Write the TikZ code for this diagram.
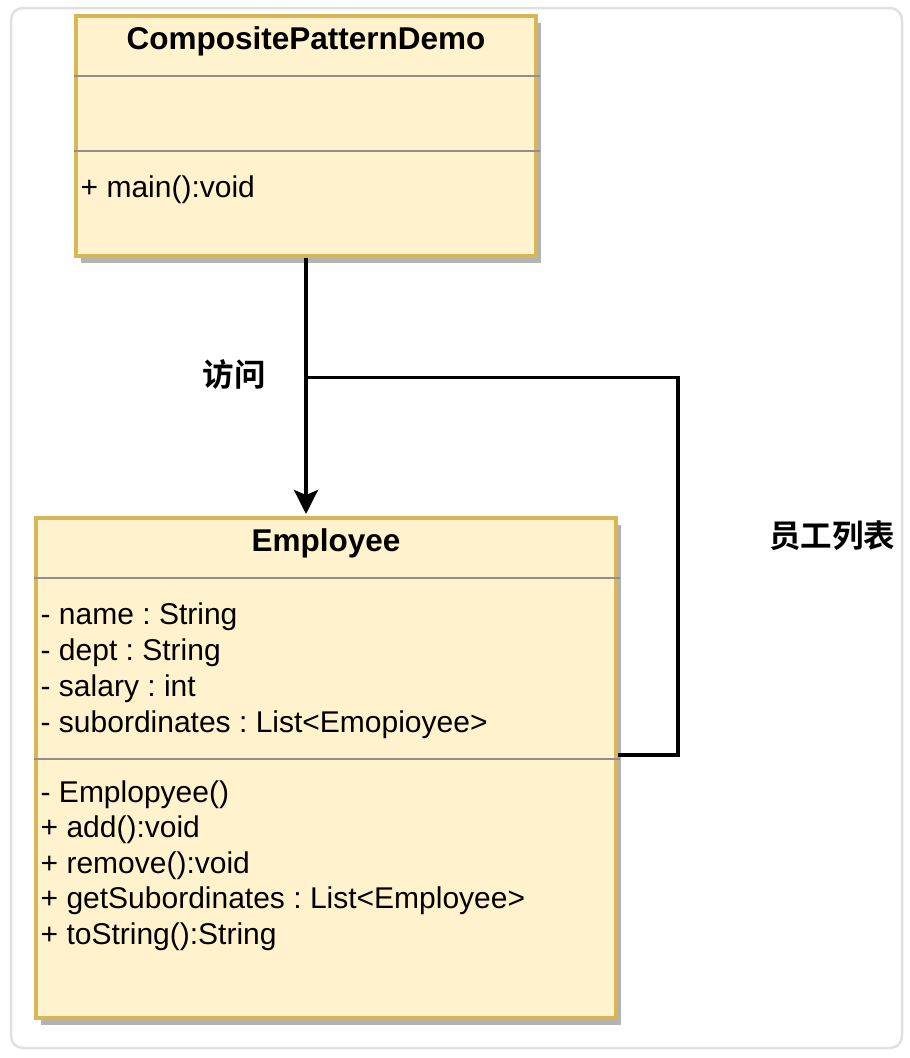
\documentclass[tikz,border=0pt]{standalone}
\usepackage{fontspec}
\setmainfont{Liberation Sans}
\newfontfamily\cjk{Noto Sans CJK SC Bold}
\usepackage{xcolor}
\usepackage{tikz}
\usetikzlibrary{shapes,arrows.meta,positioning,shadows,calc}
\frenchspacing
\definecolor{umlfill}{HTML}{FFF2CC}
\definecolor{umlgold}{HTML}{D6B656}
\definecolor{umlshadow}{HTML}{B3B3B3}
\definecolor{umlrule}{HTML}{8F8F8F}
\tikzset{
    umlbox/.style={rectangle, draw=umlgold, fill=umlfill, line width=4pt, anchor=north west, drop shadow={shadow xshift=5pt, shadow yshift=-7pt, fill=umlshadow, opacity=1}},
    umltitle/.style={font=\fontsize{31.5}{36}\selectfont\bfseries, inner sep=0pt, anchor=base},
    member/.style={font=\fontsize{30}{36}\selectfont, inner sep=0pt, anchor=base west},
    divider/.style={draw=umlrule, line width=2pt},
    link/.style={draw, line width=3.5pt},
    cnlabel/.style={font=\fontsize{31.5}{36}\selectfont\cjk, inner sep=0pt}
}
\begin{document}
\begin{tikzpicture}[x=1pt, y=-1pt]
    % Page and frame
    \fill[white] (0,0) rectangle (910,1058);
    \useasboundingbox (0,0) rectangle (910,1058);
    \draw[black!12, line width=2.5pt, rounded corners=12pt] (11,8) rectangle (902,1048);

    % Client class
    \node [umlbox, minimum width=460pt, minimum height=240pt] (demo) at (74,14) {};
    \node [umltitle] (demotitle) at ([shift={(0,35)}]demo.north) {CompositePatternDemo};
    \draw [divider] ([shift={(0,62)}]demo.north west) -- ([shift={(2,62)}]demo.north east);
    \draw [divider] ([shift={(0,136.5)}]demo.north west) -- ([shift={(2,136.5)}]demo.north east);
    \node [member] (main) at ([shift={(6.5,183)}]demo.north west) {+ main():void};

    % Component class
    \node [umlbox, minimum width=580pt, minimum height=500pt] (emp) at (34,516) {};
    \node [umltitle] (emptitle) at ([shift={(0,35)}]emp.north) {Employee};
    \draw [divider] ([shift={(0,62)}]emp.north west) -- ([shift={(2,62)}]emp.north east);
    \draw [divider] ([shift={(0,243)}]emp.north west) -- ([shift={(2,243)}]emp.north east);
    \foreach \txt [count=\i from 0] in {- name : String, - dept : String, - salary : int, - subordinates : List<Emopioyee>}
        \node [member] (attr\i) at ([shift={(6.5,108+36*\i)}]emp.north west) {\txt};
    \foreach \txt [count=\i from 0] in {- Emplopyee(), + add():void, + remove():void, + getSubordinates : List<Employee>, + toString():String}
        \node [member] (op\i) at ([shift={(6.5,286+35.5*\i)}]emp.north west) {\txt};

    % Connections
    \coordinate (join) at ([yshift=-119.5pt]demo.south);
    \path [link, -{Stealth[length=24pt, width=24pt, inset=5pt]}, shorten >=2pt] (demo.south) -- (demo.south |- emp.north);
    \path [link] ([yshift=13pt]emp.east) -- ++(60,0) |- (join);

    % Labels
    \node [cnlabel] (visit) at ([shift={(-72,117)}]demo.south) {访问};
    \node [cnlabel] (staff) at ([shift={(214,20)}]emp.north east) {员工列表};
\end{tikzpicture}
\end{document}
